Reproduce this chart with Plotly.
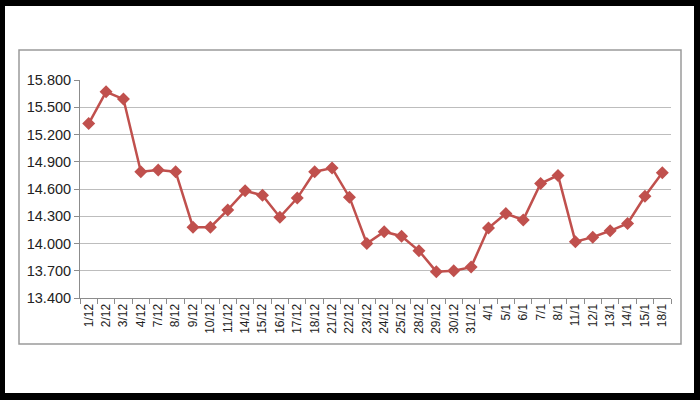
import plotly.graph_objects as go

categories = ["1/12", "2/12", "3/12", "4/12", "7/12", "8/12", "9/12", "10/12", "11/12",
              "14/12", "15/12", "16/12", "17/12", "18/12", "21/12", "22/12", "23/12",
              "24/12", "25/12", "28/12", "29/12", "30/12", "31/12", "4/1", "5/1", "6/1",
              "7/1", "8/1", "11/1", "12/1", "13/1", "14/1", "15/1", "18/1"]
values = [15.32, 15.67, 15.59, 14.79, 14.81, 14.79, 14.18, 14.18, 14.37,
          14.58, 14.53, 14.29, 14.50, 14.79, 14.83, 14.51, 14.00,
          14.13, 14.08, 13.92, 13.69, 13.70, 13.74, 14.17, 14.33, 14.26,
          14.66, 14.75, 14.02, 14.07, 14.14, 14.22, 14.52, 14.78]
y_ticks = [13.4, 13.7, 14.0, 14.3, 14.6, 14.9, 15.2, 15.5, 15.8]

fig = go.Figure()
fig.add_trace(go.Scatter(
    x=categories, y=values, mode="lines+markers",
    line=dict(color="#C0504D", width=2.5),
    marker=dict(symbol="diamond", size=10, color="#C0504D"),
    showlegend=False,
))

W, H = 700, 400
L, R, T, B = 80, 29, 80, 102
pw, ph = W - L - R, H - T - B

def px(x):
    return (x - L) / pw

def py(y):
    return (H - B - y) / ph

fig.update_layout(
    width=W, height=H,
    margin=dict(l=L, r=R, t=T, b=B),
    paper_bgcolor="black",
    plot_bgcolor="white",
    font=dict(family="Liberation Sans, Arial, sans-serif", size=13, color="#222"),
    shapes=[
        dict(type="rect", xref="paper", yref="paper", layer="below",
             x0=px(5), x1=px(694), y0=py(393), y1=py(6),
             fillcolor="white", line=dict(width=0)),
        dict(type="rect", xref="paper", yref="paper", layer="below",
             x0=px(19), x1=px(681), y0=py(344), y1=py(50),
             fillcolor="white", line=dict(color="#9a9a9a", width=1.5)),
    ],
)
fig.update_xaxes(
    type="category", tickangle=-90, showgrid=False,
    showline=True, linecolor="#8c8c8c", linewidth=1,
    ticks="outside", tickson="boundaries", ticklen=5, tickcolor="#8c8c8c",
    tickfont=dict(size=12), range=[-0.5, len(categories) - 0.5],
)
fig.update_yaxes(
    range=[13.4, 15.8], tickvals=y_ticks, tickformat=".3f",
    showgrid=True, gridcolor="#bdbdbd", gridwidth=1,
    showline=True, linecolor="#8c8c8c", linewidth=1,
    ticks="outside", ticklen=5, tickcolor="#8c8c8c",
    tickfont=dict(size=14.5), zeroline=False,
)

fig.write_html("out.html",
               config={"displayModeBar": False},
               post_script="document.body.style.margin='0';document.body.style.overflow='hidden';")
